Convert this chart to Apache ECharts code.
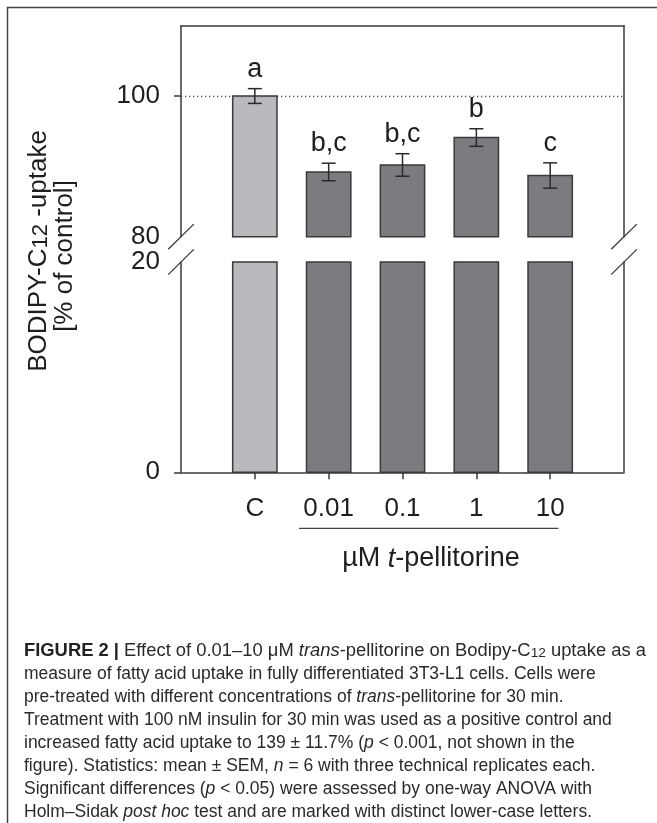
<!DOCTYPE html>
<html>
<head>
<meta charset="utf-8">
<script src="https://cdn.jsdelivr.net/npm/echarts@6/dist/echarts.min.js"></script>
<style>
html,body{margin:0;padding:0;background:#fff;}
#chart{width:657px;height:823px;}
</style>
</head>
<body>
<div id="chart"></div>
<script>
// ---- data ----
const categories = ['C', '0.01', '0.1', '1', '10'];
const means = [100, 89.2, 90.2, 94.1, 88.7];
const sems = [1.05, 1.25, 1.6, 1.25, 1.8];
const letters = ['a', 'b,c', 'b,c', 'b', 'c'];
const topRange = [80, 110];
const bottomRange = [0, 20];
const topTickLabels = [80, 100];
const bottomTickLabels = [0, 20];
const referenceLine = 100;

// ---- style / layout ----
const FONT = 'Liberation Sans, Arial, Helvetica, sans-serif';
const TXT = '#1e1e1e';
const AX = '#3a3a3a';
const CONTROL_FILL = '#b9babd';
const TREAT_FILL = '#7b7c80';
const BAR_STROKE = '#3a3a3a';
const GL = 181, GR = 624, TOP_T = 25.7, TOP_B = 236.7, BOT_T = 262, BOT_B = 472.3;

const axisCats = [''].concat(categories, ['']);

const chart = echarts.init(document.getElementById('chart'), null, {renderer: 'canvas'});

function barItem(clampMax, baseVal) {
  return function (params, api) {
    const idx = api.value(0);
    let v = api.value(1);
    if (clampMax != null) v = Math.min(v, clampMax);
    const top = api.coord([idx, v]);
    const base = api.coord([idx, baseVal]);
    const w = api.size([1, 0])[0] * 0.6;
    return {
      type: 'rect',
      shape: {x: top[0] - w / 2, y: top[1], width: w, height: base[1] - top[1]},
      style: {fill: params.dataIndex === 0 ? CONTROL_FILL : TREAT_FILL, stroke: BAR_STROKE, lineWidth: 1.5}
    };
  };
}

function errItem(params, api) {
  const idx = api.value(0);
  const m = api.value(1), e = api.value(2);
  const hi = api.coord([idx, m + e]);
  const lo = api.coord([idx, m - e]);
  const cw = 7;
  const ls = {stroke: '#2a2a2a', lineWidth: 1.5};
  return {
    type: 'group',
    children: [
      {type: 'line', shape: {x1: hi[0], y1: hi[1], x2: lo[0], y2: lo[1]}, style: ls},
      {type: 'line', shape: {x1: hi[0] - cw, y1: hi[1], x2: hi[0] + cw, y2: hi[1]}, style: ls},
      {type: 'line', shape: {x1: lo[0] - cw, y1: lo[1], x2: lo[0] + cw, y2: lo[1]}, style: ls},
      {type: 'text', style: {text: letters[params.dataIndex], x: hi[0], y: hi[1] - 6, align: 'center', verticalAlign: 'bottom', fontSize: 27, fontFamily: FONT, fill: TXT}}
    ]
  };
}

const barData = categories.map((c, i) => [c, means[i]]);
const errData = categories.map((c, i) => [c, means[i], sems[i]]);

const yLabelStyle = {fontSize: 26, fontFamily: FONT, color: TXT, margin: 21};

const option = {
  animation: false,
  backgroundColor: '#fff',
  grid: [
    {left: GL, width: GR - GL, top: TOP_T, height: TOP_B - TOP_T},
    {left: GL, width: GR - GL, top: BOT_T, height: BOT_B - BOT_T}
  ],
  xAxis: [
    {gridIndex: 0, type: 'category', data: axisCats, boundaryGap: false, position: 'top',
      axisLine: {show: true, lineStyle: {color: AX, width: 1.5}}, axisTick: {show: false}, axisLabel: {show: false}, splitLine: {show: false}},
    {gridIndex: 1, type: 'category', data: axisCats, boundaryGap: false, position: 'bottom',
      axisLine: {show: true, onZero: false, lineStyle: {color: AX, width: 1.5}},
      axisTick: {show: true, length: 7, interval: (i, v) => v !== '', lineStyle: {color: AX, width: 1.5}},
      axisLabel: {show: true, interval: 0, fontSize: 26, fontFamily: FONT, color: TXT, margin: 24},
      splitLine: {show: false}}
  ],
  yAxis: [
    {gridIndex: 0, type: 'value', min: topRange[0], max: topRange[1], interval: 10,
      axisLine: {show: true, lineStyle: {color: AX, width: 1.5}},
      axisTick: {show: true, length: 7, customValues: [referenceLine], lineStyle: {color: AX, width: 1.5}},
      axisLabel: Object.assign({show: true, customValues: topTickLabels}, yLabelStyle),
      splitLine: {show: false}},
    {gridIndex: 0, type: 'value', position: 'right', min: topRange[0], max: topRange[1], interval: 10,
      axisLine: {show: true, lineStyle: {color: AX, width: 1.5}}, axisTick: {show: false}, axisLabel: {show: false}, splitLine: {show: false}},
    {gridIndex: 1, type: 'value', min: bottomRange[0], max: bottomRange[1], interval: 10,
      axisLine: {show: true, lineStyle: {color: AX, width: 1.5}},
      axisTick: {show: true, length: 7, customValues: [bottomRange[0]], lineStyle: {color: AX, width: 1.5}},
      axisLabel: Object.assign({show: true, customValues: bottomTickLabels}, yLabelStyle),
      splitLine: {show: false}},
    {gridIndex: 1, type: 'value', position: 'right', min: bottomRange[0], max: bottomRange[1], interval: 10,
      axisLine: {show: true, lineStyle: {color: AX, width: 1.5}}, axisTick: {show: false}, axisLabel: {show: false}, splitLine: {show: false}}
  ],
  series: [
    {type: 'line', xAxisIndex: 0, yAxisIndex: 0, data: [], z: 1,
      markLine: {silent: true, symbol: 'none', label: {show: false},
        lineStyle: {type: [1.3, 2.7], color: '#555', width: 1.3},
        data: [{yAxis: referenceLine}]}},
    {type: 'custom', xAxisIndex: 0, yAxisIndex: 0, data: barData, renderItem: barItem(null, topRange[0]), encode: {x: 0, y: 1}, z: 3},
    {type: 'custom', xAxisIndex: 1, yAxisIndex: 2, data: barData, renderItem: barItem(bottomRange[1], bottomRange[0]), encode: {x: 0, y: 1}, z: 3},
    {type: 'custom', xAxisIndex: 0, yAxisIndex: 0, data: errData, renderItem: errItem, encode: {x: 0, y: 1}, z: 4}
  ],
  graphic: []
};

// break marks, frame, annotations
const g = [];
[[GL, TOP_B], [GL, BOT_T], [GR, TOP_B], [GR, BOT_T]].forEach(p => {
  g.push({type: 'line', shape: {x1: p[0] - 12.8, y1: p[1] + 12.6, x2: p[0] + 12.8, y2: p[1] - 12.6},
    style: {stroke: AX, lineWidth: 1.3}, z: 10});
});

const captionLines = [
  '{b|FIGURE 2 |} Effect of 0.01–10 μM {i|trans}-pellitorine on Bodipy-C{s|12} uptake as a',
  'measure of fatty acid uptake in fully differentiated 3T3-L1 cells. Cells were',
  'pre-treated with different concentrations of {i|trans}-pellitorine for 30 min.',
  'Treatment with 100 nM insulin for 30 min was used as a positive control and',
  'increased fatty acid uptake to 139 ± 11.7% ({i|p} < 0.001, not shown in the',
  'figure). Statistics: mean ± SEM, {i|n} = 6 with three technical replicates each.',
  'Significant differences ({i|p} < 0.05) were assessed by one-way ANOVA with',
  'Holm–Sidak {i|post hoc} test and are marked with distinct lower-case letters.'
];
const capRich = {
  b: {fontWeight: 'bold', fontSize: 17.5, fontFamily: FONT, fill: '#222'},
  i: {fontStyle: 'italic', fontSize: 17.5, fontFamily: FONT, fill: '#2a2a2a'},
  s: {fontSize: 13, fontFamily: FONT, fill: '#2a2a2a', verticalAlign: 'bottom', lineHeight: 14}
};
captionLines.forEach((t, k) => {
  g.push({type: 'text', x: 24, y: 651 + k * 23, scaleX: k === 0 ? 1.05 : 1,
    style: {text: t, fontSize: 17.5, fontFamily: FONT, fill: '#2a2a2a', align: 'left', verticalAlign: 'middle', rich: capRich}});
});

g.push({type: 'polyline', shape: {points: [[7.5, 823], [7.5, 7.5], [657, 7.5]]}, style: {stroke: '#444', lineWidth: 1.5, fill: null}});
g.push({type: 'line', shape: {x1: 299, y1: 528.3, x2: 558.3, y2: 528.3}, style: {stroke: '#444', lineWidth: 1.2}});
g.push({type: 'text', x: 431, y: 559,
  style: {text: 'µM {i|t}-pellitorine', fontSize: 27, fontFamily: FONT, fill: TXT, align: 'center', verticalAlign: 'middle',
    rich: {i: {fontStyle: 'italic', fontSize: 27, fontFamily: FONT, fill: TXT}}}});
g.push({type: 'text', x: 39, y: 251, rotation: Math.PI / 2,
  style: {text: 'BODIPY-C{s|12} -uptake', fontSize: 26, fontFamily: FONT, fill: TXT, align: 'center', verticalAlign: 'middle',
    rich: {s: {fontSize: 22, fontFamily: FONT, fill: TXT, verticalAlign: 'bottom', lineHeight: 22}}}});
g.push({type: 'text', x: 65, y: 256, rotation: Math.PI / 2,
  style: {text: '[% of control]', fontSize: 26, fontFamily: FONT, fill: TXT, align: 'center', verticalAlign: 'middle'}});

option.graphic = g;
chart.setOption(option);
</script>
</body>
</html>
